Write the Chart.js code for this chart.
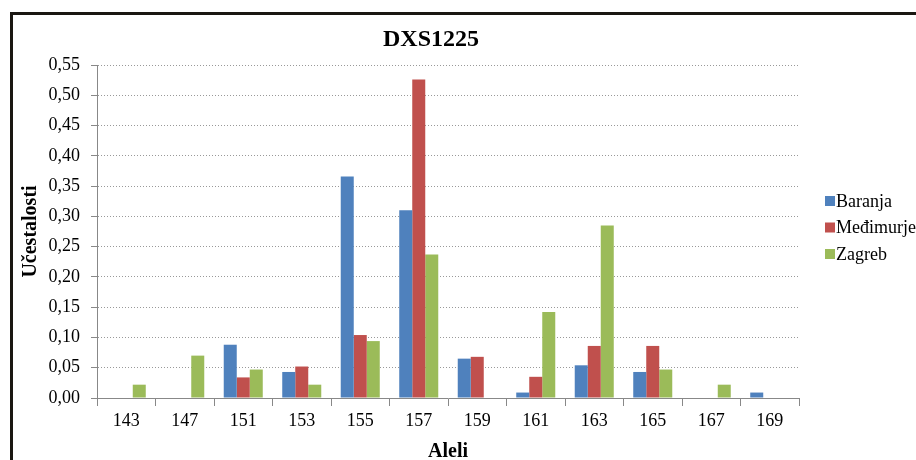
<!DOCTYPE html>
<html>
<head>
<meta charset="utf-8">
<script src="https://cdn.jsdelivr.net/npm/chart.js@4/dist/chart.umd.min.js"></script>
<style>
  html, body { margin: 0; padding: 0; background: #fff; overflow: hidden; }
  #wrap { position: relative; width: 916px; height: 460px; overflow: hidden; }
  #frame { position: absolute; left: 10px; top: 12px; width: 1000px; height: 1000px;
           border: 3px solid #1a1712; pointer-events: none; box-sizing: border-box; }
  canvas { position: absolute; left: 0; top: 0; }
</style>
</head>
<body>
<div id="wrap">
  <canvas id="c" width="916" height="460"></canvas>
  <div id="frame"></div>
</div>
<script>
const chartTitle = 'DXS1225';
const xTitle = 'Aleli';
const yTitle = 'Učestalosti';
const categories = ['143', '147', '151', '153', '155', '157', '159', '161', '163', '165', '167', '169'];
const seriesNames = ['Baranja', 'Međimurje', 'Zagreb'];
const baranja   = [0,     0,     0.088, 0.043, 0.366, 0.310, 0.065, 0.009, 0.054, 0.043, 0,     0.009];
const medimurje = [0,     0,     0.034, 0.052, 0.104, 0.526, 0.068, 0.035, 0.086, 0.086, 0,     0];
const zagreb    = [0.022, 0.070, 0.047, 0.022, 0.094, 0.237, 0,     0.142, 0.285, 0.047, 0.022, 0];
const yTickLabels = ['0,00','0,05','0,10','0,15','0,20','0,25','0,30','0,35','0,40','0,45','0,50','0,55'];
const colors = ['#4F81BD', '#C0504D', '#9BBB59'];

const FONT = '"Liberation Serif", "Times New Roman", serif';

const titlePlugin = {
  id: 'mainTitle',
  afterDraw(chart) {
    const ctx = chart.ctx;
    ctx.save();
    ctx.fillStyle = '#000';
    ctx.font = 'bold 24px ' + FONT;
    ctx.textAlign = 'center';
    ctx.textBaseline = 'middle';
    ctx.fillText(chartTitle, 431, 40);
    ctx.restore();
  }
};

const legendPlugin = {
  id: 'sideLegend',
  afterDraw(chart) {
    const ctx = chart.ctx;
    ctx.save();
    ctx.font = '18px ' + FONT;
    ctx.textAlign = 'left';
    ctx.textBaseline = 'middle';
    chart.data.datasets.forEach((ds, i) => {
      const y = 201 + 26.5 * i;
      ctx.fillStyle = ds.backgroundColor;
      ctx.fillRect(825, y - 5, 10, 10);
      ctx.fillStyle = '#000';
      ctx.fillText(ds.label, 836, y + 1);
    });
    ctx.restore();
  }
};

new Chart(document.getElementById('c'), {
  type: 'bar',
  data: {
    labels: categories,
    datasets: [
      { label: seriesNames[0], data: baranja,   backgroundColor: colors[0] },
      { label: seriesNames[1], data: medimurje, backgroundColor: colors[1] },
      { label: seriesNames[2], data: zagreb,    backgroundColor: colors[2] }
    ]
  },
  options: {
    responsive: false,
    animation: false,
    devicePixelRatio: 1,
    layout: { padding: { top: 65, right: 117, bottom: 0, left: 0 } },
    datasets: { bar: { categoryPercentage: 0.667, barPercentage: 1.0 } },
    plugins: {
      legend: { display: false },
      title: { display: false },
      tooltip: { enabled: false }
    },
    scales: {
      x: {
        offset: true,
        grid: { offset: true, drawOnChartArea: false, drawTicks: true, tickLength: 8, color: '#888', tickColor: '#888', lineWidth: 1 },
        border: { display: true, color: '#888', width: 1 },
        ticks: { color: '#000', font: { family: FONT, size: 18 }, padding: 4, maxRotation: 0, autoSkip: false },
        title: { display: true, text: xTitle, color: '#000', font: { family: FONT, size: 20, weight: 'bold' }, padding: { top: 0, bottom: -4 } },
        afterFit(s) { s.height = 62; }
      },
      y: {
        min: 0, max: 0.55,
        grid: { drawTicks: true, tickLength: 6, color: '#999', tickColor: '#888', lineWidth: 1 },
        border: { display: true, color: '#888', width: 1, dash: [1, 2] },
        ticks: {
          stepSize: 0.05, color: '#000', font: { family: FONT, size: 18 }, padding: 11,
          callback: (v, i) => yTickLabels[i]
        },
        title: { display: true, text: yTitle, color: '#000', font: { family: FONT, size: 20, weight: 'bold' }, padding: { top: 19, bottom: 0 } },
        afterFit(s) { s.width = 97; }
      }
    }
  },
  plugins: [titlePlugin, legendPlugin]
});
</script>
</body>
</html>
